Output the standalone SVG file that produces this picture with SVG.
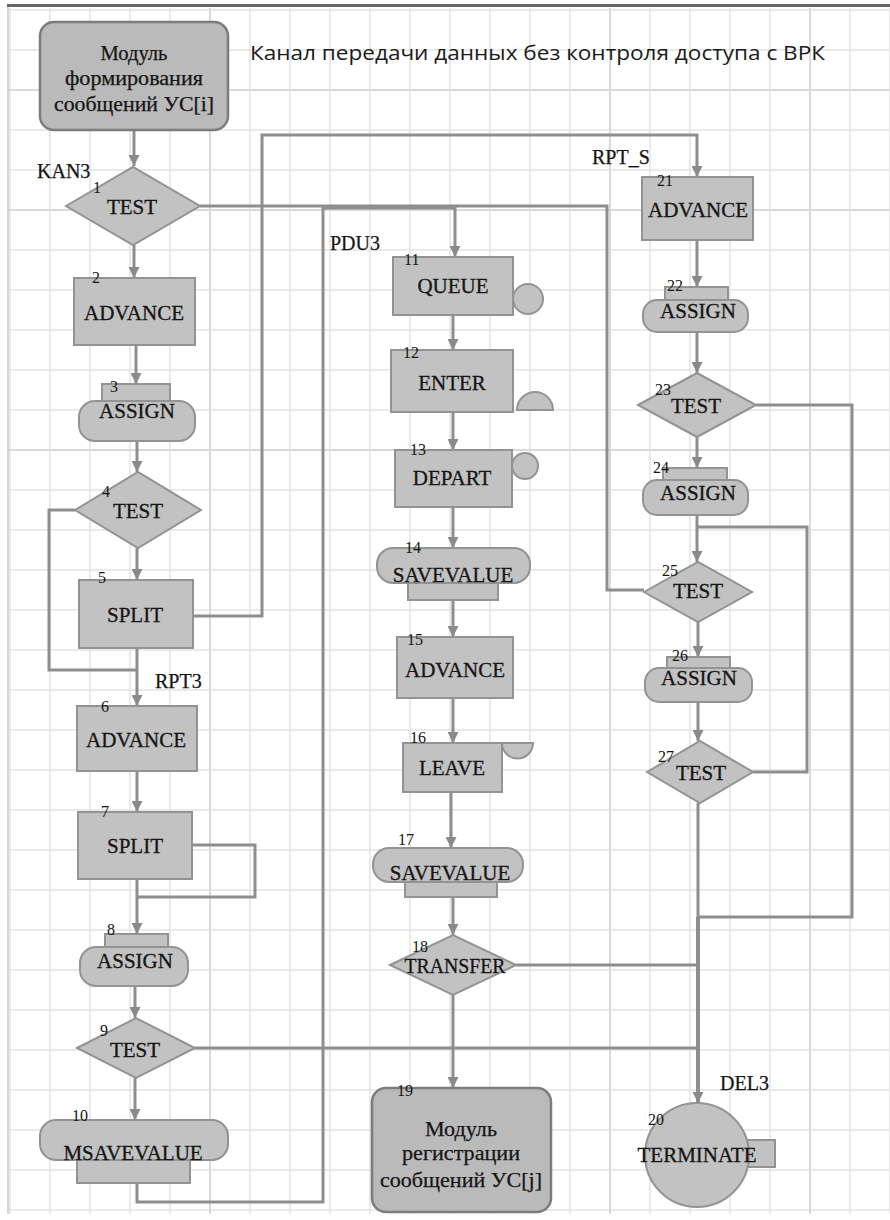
<svg xmlns="http://www.w3.org/2000/svg" width="890" height="1220" viewBox="0 0 890 1220">
<defs>
<style>
.blk{fill:#c2c2c2;stroke:#939393;stroke-width:2}
.mod{fill:#bababa;stroke:#7c7c7c;stroke-width:2.5}
.c{fill:none;stroke:#8e8e8e;stroke-width:3}
.ca{fill:none;stroke:#8e8e8e;stroke-width:3;marker-end:url(#ah)}
.gmaj{stroke:#d4d4d4;stroke-width:1.5}
.b{font-family:"Liberation Serif","Times New Roman",serif;fill:#151515;stroke:#151515;stroke-width:0.3;font-size:21px;text-anchor:middle}
.n{font-family:"Liberation Serif","Times New Roman",serif;fill:#151515;font-size:16px}
.l{font-family:"Liberation Serif","Times New Roman",serif;fill:#151515;stroke:#151515;stroke-width:0.25;font-size:20px}
.m{font-family:"Liberation Serif","Times New Roman",serif;fill:#151515;stroke:#151515;stroke-width:0.25;font-size:20px;text-anchor:middle}
.title{font-family:"Open Sans","Noto Sans","DejaVu Sans",sans-serif;font-size:20px;fill:#1a1a1a}
</style>
<pattern id="grid" x="-10" y="-10" width="40" height="40" patternUnits="userSpaceOnUse">
<path d="M0,20 H40 M20,0 V40" fill="none" stroke="#e3e3e3" stroke-width="1.5"/>
</pattern>
<marker id="ah" viewBox="0 0 10 10" refX="10" refY="5" markerWidth="11" markerHeight="11" markerUnits="userSpaceOnUse" orient="auto">
<path d="M0,0 L10,5 L0,10 Z" fill="#8a8a8a"/>
</marker>
</defs>

<rect x="0" y="0" width="890" height="1220" fill="#ffffff"/>
<rect x="8" y="8" width="882" height="1206" fill="url(#grid)"/>
<g id="grid-major">
<line class="gmaj" x1="210" y1="8" x2="210" y2="1214"/>
<line class="gmaj" x1="610" y1="8" x2="610" y2="1214"/>
<line class="gmaj" x1="810" y1="8" x2="810" y2="1214"/>
<line class="gmaj" x1="8" y1="90" x2="890" y2="90"/>
<line class="gmaj" x1="8" y1="210" x2="890" y2="210"/>
<line class="gmaj" x1="8" y1="450" x2="890" y2="450"/>
</g>
<rect x="7" y="4" width="883" height="3" fill="#666666"/>
<line x1="8" y1="7" x2="8" y2="1214" stroke="#c8c8c8" stroke-width="1.5"/>

<text class="title" x="250" y="60" textLength="575" lengthAdjust="spacingAndGlyphs">Канал передачи данных без контроля доступа с ВРК</text>

<g id="connectors">
<path class="ca" d="M134,130 V166"/>
<path class="ca" d="M134,245 V278"/>
<path class="ca" d="M136,345 V384"/>
<path class="ca" d="M137,441 V472"/>
<path class="ca" d="M137,548 V580"/>
<path class="ca" d="M137,648 V706"/>
<path class="c" d="M75,510 H49 V670 H137"/>
<path class="ca" d="M193,616 H262 V135 H697 V177"/>
<path class="ca" d="M137,771 V812"/>
<path class="c" d="M192,845 H255 V897 H137"/>
<path class="ca" d="M137,879 V934"/>
<path class="ca" d="M135,986 V1018"/>
<path class="c" d="M195,1048 H697"/>
<path class="ca" d="M135,1078 V1120"/>
<path class="ca" d="M137,1183 V1202 H323 V208 H455 V257"/>
<path class="c" d="M200,206 H607 V590 H644"/>
<path class="ca" d="M453,315 V350"/>
<path class="ca" d="M453,412 V450"/>
<path class="ca" d="M453,507 V548"/>
<path class="ca" d="M453,600 V637"/>
<path class="ca" d="M453,698 V743"/>
<path class="ca" d="M451,792 V848"/>
<path class="ca" d="M453,897 V935"/>
<path class="c" d="M516,965 H697"/>
<path class="ca" d="M453,995 V1088"/>
<path class="ca" d="M697,240 V287"/>
<path class="ca" d="M697,332 V373"/>
<path class="c" d="M756,405 H852 V917 H697"/>
<path class="ca" d="M697,437 V468"/>
<path class="ca" d="M697,515 V562"/>
<path class="c" d="M753,772 H807 V527 H697"/>
<path class="ca" d="M698,622 V657"/>
<path class="ca" d="M698,702 V741"/>
<path class="c" d="M698,803 V917"/>
<path class="ca" d="M698,917 V1103" style="stroke-width:4"/>
</g>

<g id="n1">
<rect class="mod" x="40" y="22" width="188" height="108" rx="14"/>
<text class="m" x="134" y="60" textLength="67" lengthAdjust="spacingAndGlyphs">Модуль</text>
<text class="m" x="134" y="85" textLength="138" lengthAdjust="spacingAndGlyphs">формирования</text>
<text class="m" x="134" y="111" textLength="160" lengthAdjust="spacingAndGlyphs">сообщений УС[i]</text>
</g>

<g id="b1">
<polygon class="blk" points="66,206 133,167 200,206 133,245"/>
<text class="l" x="37" y="178">KAN3</text>
<text class="n" x="93" y="193">1</text>
<text class="b" x="132" y="214">TEST</text>
</g>

<g id="b2">
<rect class="blk" x="74" y="278" width="121" height="67"/>
<text class="n" x="92" y="283">2</text>
<text class="b" x="134" y="320">ADVANCE</text>
</g>

<g id="b3">
<rect class="blk" x="102" y="384" width="68" height="24"/>
<rect class="blk" x="79" y="401" width="116" height="40" rx="16"/>
<rect x="103" y="402" width="66" height="6" fill="#c2c2c2"/>
<text class="n" x="110" y="392">3</text>
<text class="b" x="137" y="418">ASSIGN</text>
</g>

<g id="b4">
<polygon class="blk" points="75,510 138,472 201,510 138,548"/>
<text class="n" x="102" y="497">4</text>
<text class="b" x="138" y="518">TEST</text>
</g>

<g id="b5">
<rect class="blk" x="79" y="580" width="114" height="68"/>
<text class="n" x="98" y="583">5</text>
<text class="b" x="135" y="622">SPLIT</text>
</g>

<g id="b6">
<rect class="blk" x="77" y="706" width="120" height="65"/>
<text class="l" x="155" y="688">RPT3</text>
<text class="n" x="101" y="712">6</text>
<text class="b" x="136" y="747">ADVANCE</text>
</g>

<g id="b7">
<rect class="blk" x="78" y="812" width="114" height="67"/>
<text class="n" x="101" y="817">7</text>
<text class="b" x="135" y="853">SPLIT</text>
</g>

<g id="b8">
<rect class="blk" x="105" y="934" width="63" height="22"/>
<rect class="blk" x="80" y="947" width="108" height="39" rx="16"/>
<rect x="106" y="948" width="61" height="7" fill="#c2c2c2"/>
<text class="n" x="107" y="935">8</text>
<text class="b" x="135" y="968">ASSIGN</text>
</g>

<g id="b9">
<polygon class="blk" points="77,1048 136,1018 195,1048 136,1078"/>
<text class="n" x="100" y="1036">9</text>
<text class="b" x="135" y="1057">TEST</text>
</g>

<g id="b10">
<rect class="blk" x="77" y="1150" width="113" height="33"/>
<rect class="blk" x="40" y="1120" width="188" height="40" rx="16"/>
<rect x="78" y="1152" width="111" height="7" fill="#c2c2c2"/>
<text class="n" x="72" y="1121">10</text>
<text class="b" x="133" y="1160">MSAVEVALUE</text>
</g>

<g id="b11">
<circle class="blk" cx="528" cy="299" r="15"/>
<rect class="blk" x="393" y="257" width="120" height="58"/>
<text class="l" x="330" y="250">PDU3</text>
<text class="n" x="404" y="265">11</text>
<text class="b" x="453" y="293">QUEUE</text>
</g>

<g id="b12">
<path class="blk" d="M517,410 A18,18 0 0 1 553,410 Z"/>
<rect class="blk" x="391" y="350" width="122" height="62"/>
<text class="n" x="403" y="358">12</text>
<text class="b" x="452" y="390">ENTER</text>
</g>

<g id="b13">
<circle class="blk" cx="525" cy="466" r="13"/>
<rect class="blk" x="395" y="450" width="117" height="57"/>
<text class="n" x="410" y="455">13</text>
<text class="b" x="452" y="485">DEPART</text>
</g>

<g id="b14">
<rect class="blk" x="408" y="575" width="90" height="25"/>
<rect class="blk" x="377" y="548" width="153" height="35" rx="16"/>
<rect x="409" y="577" width="88" height="5" fill="#c2c2c2"/>
<text class="n" x="405" y="553">14</text>
<text class="b" x="453" y="582">SAVEVALUE</text>
</g>

<g id="b15">
<rect class="blk" x="397" y="637" width="116" height="61"/>
<text class="n" x="407" y="645">15</text>
<text class="b" x="455" y="677">ADVANCE</text>
</g>

<g id="b16">
<path class="blk" d="M502,743 H533 A15.5,15.5 0 0 1 502,743 Z"/>
<rect class="blk" x="403" y="743" width="99" height="49"/>
<text class="n" x="410" y="743">16</text>
<text class="b" x="452" y="775">LEAVE</text>
</g>

<g id="b17">
<rect class="blk" x="405" y="875" width="92" height="22"/>
<rect class="blk" x="373" y="848" width="150" height="34" rx="16"/>
<rect x="406" y="877" width="90" height="4" fill="#c2c2c2"/>
<text class="n" x="398" y="845">17</text>
<text class="b" x="450" y="880">SAVEVALUE</text>
</g>

<g id="b18">
<polygon class="blk" points="390,965 453,935 516,965 453,995"/>
<text class="n" x="412" y="952">18</text>
<text class="b" x="455" y="973" textLength="101" lengthAdjust="spacingAndGlyphs">TRANSFER</text>
</g>

<g id="n19">
<rect class="mod" x="372" y="1088" width="179" height="124" rx="14"/>
<text class="n" x="397" y="1096">19</text>
<text class="m" x="461" y="1136" textLength="72" lengthAdjust="spacingAndGlyphs">Модуль</text>
<text class="m" x="461" y="1160" textLength="118" lengthAdjust="spacingAndGlyphs">регистрации</text>
<text class="m" x="461" y="1187" textLength="162" lengthAdjust="spacingAndGlyphs">сообщений УС[j]</text>
</g>

<g id="b20">
<rect class="blk" x="743" y="1140" width="32" height="27"/>
<circle class="blk" cx="697" cy="1155" r="52"/>
<text class="l" x="720" y="1090">DEL3</text>
<text class="n" x="648" y="1125">20</text>
<text class="b" x="697" y="1162">TERMINATE</text>
</g>

<g id="b21">
<rect class="blk" x="642" y="177" width="111" height="63"/>
<text class="l" x="592" y="164">RPT_S</text>
<text class="n" x="657" y="186">21</text>
<text class="b" x="698" y="217">ADVANCE</text>
</g>

<g id="b22">
<rect class="blk" x="665" y="287" width="63" height="20"/>
<rect class="blk" x="643" y="300" width="105" height="32" rx="14"/>
<rect x="666" y="301" width="61" height="5" fill="#c2c2c2"/>
<text class="n" x="667" y="291">22</text>
<text class="b" x="698" y="318">ASSIGN</text>
</g>

<g id="b23">
<polygon class="blk" points="638,405 697,373 756,405 697,437"/>
<text class="n" x="655" y="395">23</text>
<text class="b" x="696" y="413">TEST</text>
</g>

<g id="b24">
<rect class="blk" x="663" y="468" width="64" height="20"/>
<rect class="blk" x="643" y="480" width="105" height="35" rx="14"/>
<rect x="664" y="481" width="62" height="6" fill="#c2c2c2"/>
<text class="n" x="653" y="473">24</text>
<text class="b" x="698" y="500">ASSIGN</text>
</g>

<g id="b25">
<polygon class="blk" points="644,592 698,562 752,592 698,622"/>
<text class="n" x="662" y="576">25</text>
<text class="b" x="698" y="598">TEST</text>
</g>

<g id="b26">
<rect class="blk" x="667" y="657" width="63" height="20"/>
<rect class="blk" x="645" y="668" width="107" height="34" rx="14"/>
<rect x="668" y="669" width="61" height="7" fill="#c2c2c2"/>
<text class="n" x="672" y="661">26</text>
<text class="b" x="699" y="685">ASSIGN</text>
</g>

<g id="b27">
<polygon class="blk" points="647,772 700,741 753,772 700,803"/>
<text class="n" x="658" y="762">27</text>
<text class="b" x="701" y="780">TEST</text>
</g>
</svg>
